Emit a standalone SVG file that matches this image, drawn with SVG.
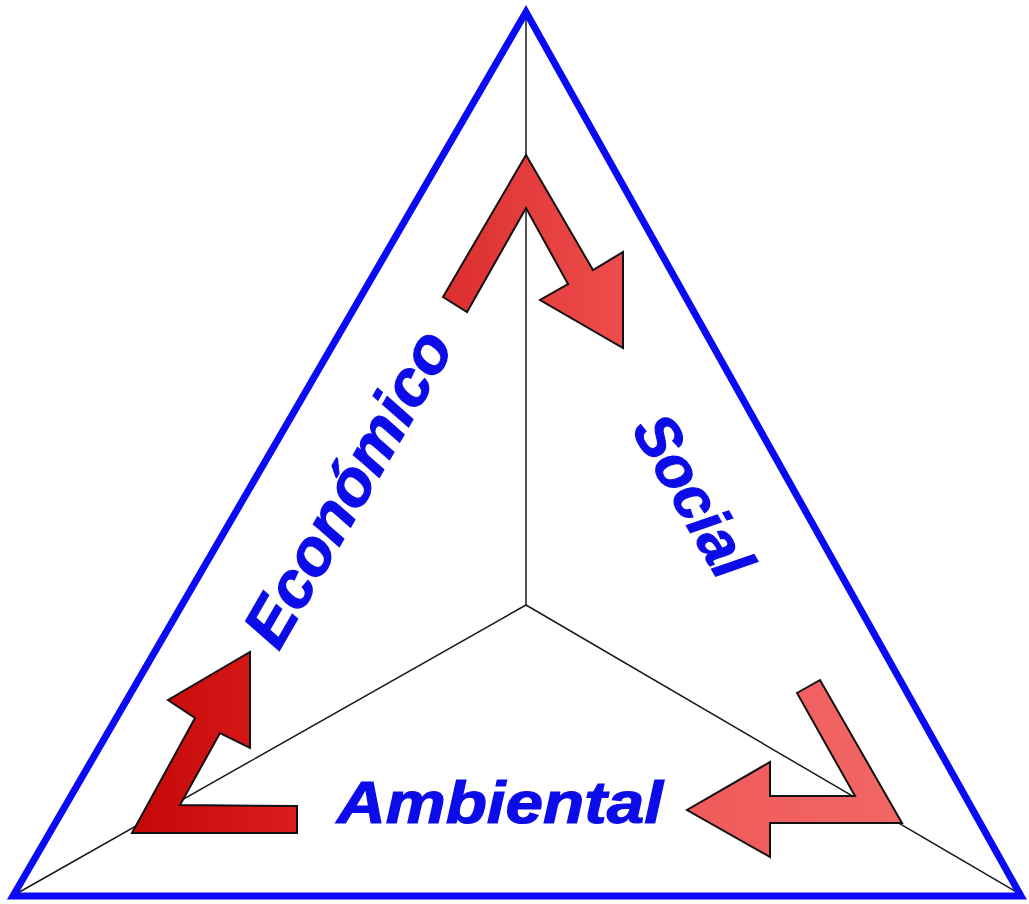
<svg xmlns="http://www.w3.org/2000/svg" width="1029" height="904" viewBox="0 0 1029 904">
<style>
.lbl{font-family:"Liberation Sans",Arial,sans-serif;font-weight:bold;font-style:italic;fill:#0c0ce8;stroke:#0c0ce8;stroke-width:1.2}
.thin{stroke:#1a1a1a;stroke-width:1.5;fill:none}
.arr{stroke:#111;stroke-width:2;stroke-linejoin:miter}
</style>
<defs>
<linearGradient id="gTop" x1="0" y1="0" x2="1" y2="0"><stop offset="0" stop-color="#dc2e2e"/><stop offset="1" stop-color="#ee4d4d"/></linearGradient>
<linearGradient id="gLeft" x1="0" y1="0" x2="1" y2="0"><stop offset="0" stop-color="#c30808"/><stop offset="1" stop-color="#dc1c1c"/></linearGradient>
<linearGradient id="gRight" x1="0" y1="0" x2="1" y2="0"><stop offset="0" stop-color="#f05a5a"/><stop offset="1" stop-color="#f26666"/></linearGradient>
</defs>
<g id="connectors">
<line class="thin" x1="526" y1="14" x2="526" y2="605"/>
<line class="thin" x1="526" y1="605" x2="16" y2="894"/>
<line class="thin" x1="526" y1="605" x2="1020" y2="894"/>
</g>
<g id="triangle">
<polygon points="526,12 13,896 1021,896" fill="none" stroke="#0a0af5" stroke-width="7" stroke-linejoin="miter"/>
</g>
<g id="arrow-top">
<polygon class="arr" fill="url(#gTop)" points="443,297 526,155 593,270 623,252 623,348 540,300 568,284 526,208 467,312"/>
</g>
<g id="arrow-left">
<polygon class="arr" fill="url(#gLeft)" points="132,833 297,833 297,806 180,805 220,733 250,748 250,652 168,700 195,718"/>
</g>
<g id="arrow-right">
<polygon class="arr" fill="url(#gRight)" points="797,693 820,680 902,823 770,823 770,857 687,810 770,762 770,796 855,796"/>
</g>
<g id="label-economico">
<text class="lbl" font-size="64" text-anchor="middle" textLength="353" lengthAdjust="spacingAndGlyphs" transform="translate(367,499) rotate(-60)">Económico</text>
</g>
<g id="label-social">
<text class="lbl" font-size="61" text-anchor="middle" textLength="177" lengthAdjust="spacingAndGlyphs" transform="translate(675,506) rotate(60)">Social</text>
</g>
<g id="label-ambiental">
<text class="lbl" font-size="60" x="337" y="823" textLength="326" lengthAdjust="spacingAndGlyphs">Ambiental</text>
</g>
</svg>
